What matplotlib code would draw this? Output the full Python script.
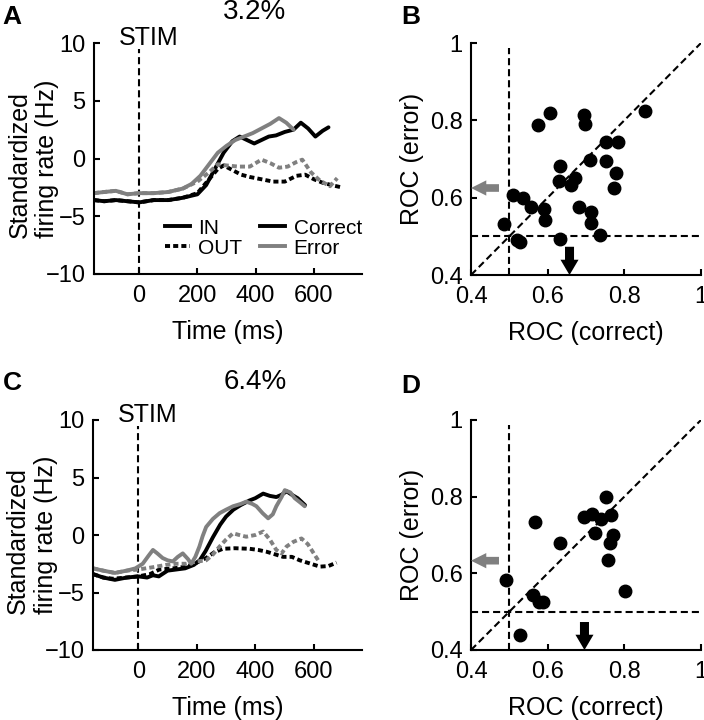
import matplotlib
matplotlib.use('Agg')
import matplotlib.pyplot as plt
from matplotlib.lines import Line2D

plt.rcParams['font.family'] = ['Liberation Sans', 'DejaVu Sans']

# ---------------- Panel A (3.2%) ----------------
a_in_correct_t = [-155, -120, -80, -40, 0, 50, 100, 150, 200, 230, 260, 290, 320, 345, 370, 395, 420, 445, 470, 500, 530, 555, 580, 605, 630, 650]
a_in_correct_v = [-3.6, -3.7, -3.6, -3.7, -3.8, -3.6, -3.6, -3.4, -3.1, -2.3, -0.9, 0.5, 1.5, 1.9, 1.6, 1.3, 1.6, 1.9, 2.0, 2.3, 2.5, 3.1, 2.6, 1.9, 2.4, 2.7]

a_in_error_t = [-155, -120, -80, -40, 0, 50, 100, 150, 180, 210, 240, 270, 300, 330, 360, 390, 420, 450, 480, 505, 530]
a_in_error_v = [-3.0, -2.9, -2.8, -3.1, -3.0, -3.0, -2.9, -2.6, -2.2, -1.5, -0.5, 0.5, 1.1, 1.6, 1.9, 2.2, 2.6, 3.0, 3.5, 3.1, 2.5]

a_out_correct_t = [-155, -120, -80, -40, 0, 50, 100, 150, 200, 240, 270, 290, 320, 350, 380, 420, 460, 500, 540, 570, 600, 630, 660, 695]
a_out_correct_v = [-3.6, -3.7, -3.6, -3.7, -3.8, -3.6, -3.6, -3.4, -3.0, -1.8, -0.9, -0.6, -1.0, -1.4, -1.6, -1.8, -2.0, -2.0, -1.5, -1.4, -1.8, -2.1, -2.3, -2.5]

a_out_error_t = [-155, -120, -80, -40, 0, 50, 100, 150, 200, 240, 270, 300, 340, 380, 420, 450, 480, 510, 540, 560, 590, 620, 655, 680]
a_out_error_v = [-3.0, -2.9, -2.8, -3.1, -3.0, -3.0, -2.9, -2.6, -2.0, -1.2, -0.5, -0.6, -0.7, -0.7, -0.1, -0.4, -0.8, -0.7, -0.3, -0.1, -1.2, -1.9, -2.4, -1.7]

# ---------------- Panel B (3.2% ROC) ----------------
b_roc_correct = [0.855, 0.576, 0.607, 0.694, 0.698, 0.753, 0.783, 0.710, 0.753, 0.778, 0.773, 0.631, 0.629, 0.661, 0.670,
                 0.509, 0.535, 0.556, 0.591, 0.594, 0.681, 0.713, 0.712, 0.487, 0.520, 0.528, 0.631, 0.736]
b_roc_error = [0.823, 0.789, 0.819, 0.815, 0.791, 0.745, 0.745, 0.698, 0.694, 0.665, 0.624, 0.683, 0.644, 0.633, 0.650,
               0.607, 0.600, 0.577, 0.571, 0.541, 0.575, 0.562, 0.535, 0.532, 0.491, 0.486, 0.492, 0.504]
b_mean_correct = 0.657
b_mean_error = 0.625

# ---------------- Panel C (6.4%) ----------------
c_in_correct_t = [-155, -120, -80, -40, 0, 30, 50, 70, 100, 130, 160, 190, 210, 230, 255, 280, 300, 325, 350, 380, 400, 427, 450, 472, 490, 507, 525, 545, 570]
c_in_correct_v = [-3.4, -3.7, -3.9, -3.7, -3.6, -3.7, -3.5, -3.6, -3.1, -3.0, -2.9, -2.6, -2.2, -1.4, -0.2, 0.9, 1.6, 2.2, 2.6, 3.0, 3.2, 3.6, 3.4, 3.3, 3.5, 3.8, 3.5, 3.2, 2.6]

c_in_error_t = [-155, -120, -80, -40, -10, 15, 35, 50, 65, 83, 100, 118, 135, 152, 170, 181, 195, 209, 220, 232, 255, 278, 300, 324, 350, 369, 390, 404, 425, 444, 460, 472, 490, 501, 520, 535, 555, 569]
c_in_error_v = [-2.9, -3.1, -3.3, -3.1, -2.9, -2.5, -1.8, -1.3, -1.6, -2.0, -2.2, -2.3, -1.9, -1.6, -2.1, -2.5, -1.9, -1.0, -0.1, 0.7, 1.4, 1.9, 2.2, 2.5, 2.7, 2.9, 2.7, 2.5, 1.9, 1.45, 1.8, 2.5, 3.3, 3.9, 3.7, 3.2, 2.8, 2.5]

c_out_correct_t = [-155, -120, -88, -40, 0, 40, 72, 120, 164, 200, 232, 260, 289, 330, 381, 410, 438, 470, 495, 525, 552, 590, 621, 650, 678]
c_out_correct_v = [-3.4, -3.7, -3.8, -3.7, -3.6, -3.4, -3.0, -2.9, -2.75, -2.4, -2.0, -1.5, -1.2, -1.15, -1.2, -1.3, -1.45, -1.7, -1.9, -1.9, -2.2, -2.5, -2.75, -2.7, -2.4]

c_out_error_t = [-155, -120, -80, -40, 0, 50, 95, 130, 164, 200, 232, 255, 278, 300, 324, 345, 369, 400, 427, 450, 472, 490, 507, 530, 558, 580, 600, 615]
c_out_error_v = [-2.9, -3.1, -3.3, -3.1, -3.0, -2.8, -2.6, -2.5, -2.5, -2.3, -2.2, -1.7, -1.0, -0.4, 0.15, 0.0, -0.15, 0.0, 0.3, -0.4, -1.3, -1.6, -1.0, -0.6, -0.3, -0.8, -1.6, -2.2]

# ---------------- Panel D (6.4% ROC) ----------------
d_roc_correct = [0.752, 0.696, 0.716, 0.738, 0.766, 0.723, 0.770, 0.762, 0.757, 0.566, 0.631, 0.803, 0.491, 0.562, 0.577, 0.588, 0.529]
d_roc_error = [0.800, 0.748, 0.755, 0.741, 0.751, 0.705, 0.700, 0.679, 0.635, 0.735, 0.680, 0.554, 0.583, 0.544, 0.526, 0.524, 0.439]
d_mean_correct = 0.696
d_mean_error = 0.633

time_ticks = [0, 200, 400, 600]
rate_ticks = [-10, -5, 0, 5, 10]
roc_ticks = [0.4, 0.6, 0.8, 1.0]
roc_ticklabels = ['0.4', '0.6', '0.8', '1']

GRAY = '#808080'
LW = 2.8
DOT = (1.3, 0.8)
DASH = (3.4, 1.9)

W, H = 704, 720
fig = plt.figure(figsize=(W / 100, H / 100), dpi=100)


def box(l, t, r, b):
    return [l / W, 1 - b / H, (r - l) / W, (b - t) / H]


def style(ax):
    for s in ['top', 'right']:
        ax.spines[s].set_visible(False)
    for s in ['left', 'bottom']:
        ax.spines[s].set_linewidth(1.5)
    ax.tick_params(direction='in', length=4, width=1.5, labelsize=17)
    ax.tick_params(axis='x', pad=8)
    ax.tick_params(axis='y', pad=6)


def time_panel(ax, inc, ine, outc, oute, legend=False):
    style(ax)
    ax.axvline(0, ymax=0.975, color='k', lw=1.5, dashes=DASH)
    ax.plot(outc[0], outc[1], color='k', lw=LW, dashes=DOT)
    ax.plot(inc[0], inc[1], color='k', lw=LW, solid_capstyle='round')
    ax.plot(oute[0], oute[1], color=GRAY, lw=LW, dashes=DOT)
    ax.plot(ine[0], ine[1], color=GRAY, lw=LW, solid_capstyle='round')
    ax.set_xlim(-155, 765)
    ax.set_ylim(-10, 10)
    ax.set_xticks(time_ticks)
    ax.set_yticks(rate_ticks)
    ax.text(31, 10.4, 'STIM', ha='center', va='center', fontsize=18)
    ax.set_xlabel('Time (ms)', fontsize=18, labelpad=9)
    ax.set_ylabel('Standardized\nfiring rate (Hz)', fontsize=18, multialignment='left')
    ax.yaxis.set_label_coords(-0.13, 0.5)
    if legend:
        handles = [Line2D([], [], color='k', lw=LW),
                   Line2D([], [], color='k', lw=LW, dashes=DOT),
                   Line2D([], [], color='k', lw=LW),
                   Line2D([], [], color=GRAY, lw=LW)]
        labels = ['IN', 'OUT', 'Correct', 'Error']
        ax.legend(handles, labels, ncol=2, loc='upper left', bbox_to_anchor=(0.265, 0.24),
                  frameon=False, fontsize=15, handlelength=1.2, handletextpad=0.4,
                  columnspacing=0.85, labelspacing=0.05, borderpad=0, borderaxespad=0)


def roc_panel(ax, xs, ys, mean_c, mean_e):
    style(ax)
    ax.plot([0.4, 1.0], [0.4, 1.0], color='k', lw=1.5, dashes=DASH)
    ax.axvline(0.5, ymax=0.98, color='k', lw=1.5, dashes=DASH)
    ax.axhline(0.5, color='k', lw=1.5, dashes=DASH)
    ax.plot(xs, ys, 'o', color='k', ms=9, ls='none')
    ax.annotate('', xy=(0.4, mean_e), xytext=(0.473, mean_e),
                arrowprops=dict(arrowstyle='simple,head_length=1.1,head_width=1.1,tail_width=0.55',
                                mutation_scale=10, color=GRAY, shrinkA=0, shrinkB=0, lw=0))
    ax.annotate('', xy=(mean_c, 0.4), xytext=(mean_c, 0.473),
                arrowprops=dict(arrowstyle='simple,head_length=1.1,head_width=1.3,tail_width=0.65',
                                mutation_scale=10, color='k', shrinkA=0, shrinkB=0, lw=0))
    ax.set_xlim(0.4, 1.0)
    ax.set_ylim(0.4, 1.0)
    ax.set_xticks(roc_ticks)
    ax.set_xticklabels(roc_ticklabels)
    ax.set_yticks(roc_ticks)
    ax.set_yticklabels(roc_ticklabels)
    ax.set_xlabel('ROC (correct)', fontsize=18, labelpad=9)
    ax.set_ylabel('ROC (error)', fontsize=18, labelpad=4)


axA = fig.add_axes(box(94, 43, 362, 274))
time_panel(axA, (a_in_correct_t, a_in_correct_v), (a_in_error_t, a_in_error_v),
           (a_out_correct_t, a_out_correct_v), (a_out_error_t, a_out_error_v), legend=True)

axB = fig.add_axes(box(471, 43, 701, 275))
roc_panel(axB, b_roc_correct, b_roc_error, b_mean_correct, b_mean_error)

axC = fig.add_axes(box(93, 420, 362, 650))
time_panel(axC, (c_in_correct_t, c_in_correct_v), (c_in_error_t, c_in_error_v),
           (c_out_correct_t, c_out_correct_v), (c_out_error_t, c_out_error_v))

axD = fig.add_axes(box(471, 420, 701, 650))
roc_panel(axD, d_roc_correct, d_roc_error, d_mean_correct, d_mean_error)

fig.text(255 / W, 1 - 12 / H, '3.2%', ha='center', va='center', fontsize=20)
fig.text(255 / W, 1 - 382 / H, '6.4%', ha='center', va='center', fontsize=20)
for letter, (px, py) in zip('ABCD', [(12, 17), (411, 17), (12, 383), (411, 386)]):
    fig.text(px / W, 1 - py / H, letter, ha='center', va='center', fontsize=19, fontweight='bold')

fig.savefig('out.png', dpi=100)
